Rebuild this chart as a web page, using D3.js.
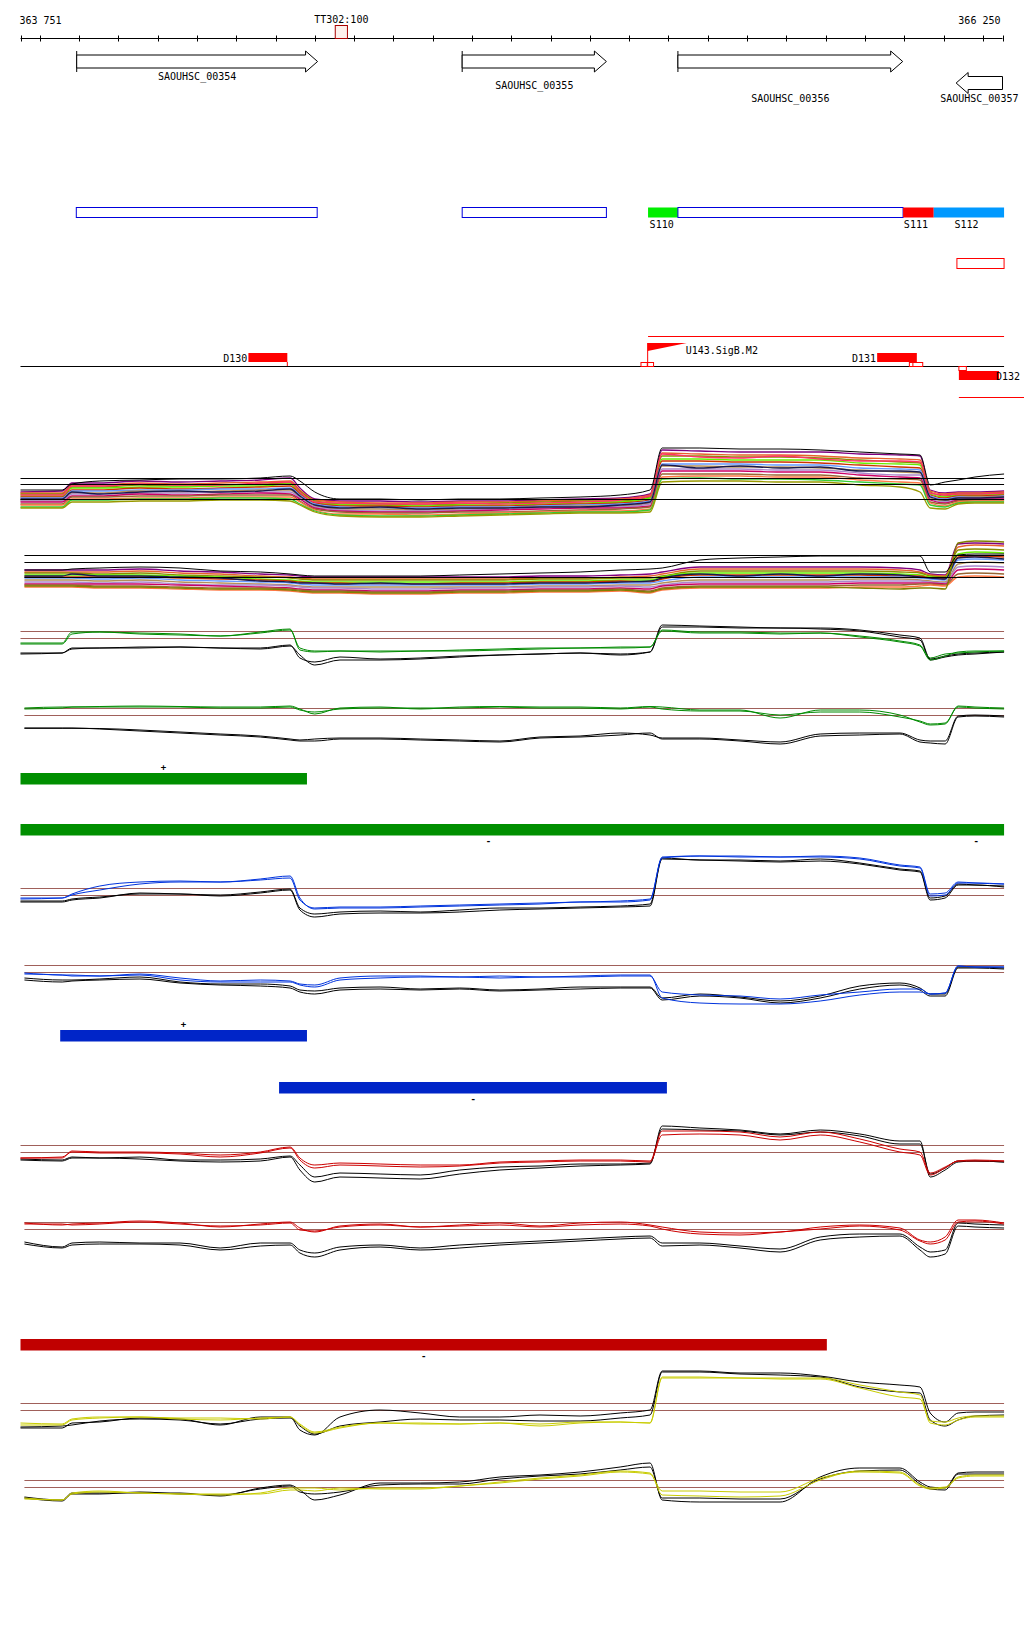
<!DOCTYPE html>
<html><head><meta charset="utf-8">
<script src="https://cdn.jsdelivr.net/npm/d3@7"></script>
<style>
body{margin:0;background:#fff}
text{font-family:'DejaVu Sans Mono',monospace;font-size:10px;fill:#000}
</style>
</head><body>
<svg id="c" width="1024" height="1640"></svg>
<script>
// ---------------- DATA ----------------
const regionStart = 363751, regionEnd = 366250;
const startLabel = "363 751", endLabel = "366 250";
const tickValues = d3.range(363800, 366250, 100);

const terminatorName = "TT302:100";
const terminatorRange = [364552, 364583];

const geneNames = ["SAOUHSC_00354","SAOUHSC_00355","SAOUHSC_00356","SAOUHSC_00357"];
const geneStart = [363894, 364875, 365424, 366132];
const geneEnd   = [364507, 365242, 365996, 366250];
const geneStrand = ["+","+","+","-"];

const segStart = [363893, 364875, 365348, 365424, 365997, 366075];
const segEnd   = [364506, 365242, 365424, 365997, 366075, 366254];
const segKind  = ["cds","cds","S110","cds","S111","S112"];
const segLabels = ["S110","S111","S112"];
const segLabelPos = [365352, 365999, 366128];

const redBoxRange = [366134, 366254];
const redLineUpper = [365348, 366254];
const redLineLower = [366139, 366305];

const peakNames = ["D130","D131","D132"];
const peakStart = [364331, 365931, 366139];
const peakEnd   = [364430, 366032, 366241];
const promoterName = "U143.SigB.M2";
const promoterPos = 365347;

// sample positions along the region (bp)
const positions = [363751,363857,363882,363953,364055,364157,364259,364361,364437,364462,364500,364564,364666,364768,364869,364971,365073,365175,365277,365353,365384,365480,365582,365684,365786,365887,365989,366040,366066,366104,366137,366180,366254];
const positionsLower = [363761].concat(positions.slice(1));

// ---- multi-condition track (sense) ----
const multiAColors = ["#800080","#e8602c","#8b8b00","#66ee00","#cc3300","#6699ff","#b38f5a","#aa88cc","#cc0066","#996633","#ff7744","#33cc33","#999900","#1a1a4d","#ff3366"];
const multiA = [
 [4.8,4.9,5.7,5.7,5.9,5.8,5.9,6.0,6.2,5.2,4.1,3.9,3.9,3.8,3.9,3.9,4.0,4.1,4.2,4.6,9.0,8.9,8.8,8.8,8.8,8.6,8.5,8.4,5.0,4.7,4.8,4.8,4.9],
 [4.7,4.7,5.5,5.5,5.7,5.6,5.7,5.8,5.9,5.0,4.0,3.8,3.7,3.7,3.8,3.8,3.9,4.0,4.1,4.5,8.7,8.6,8.5,8.5,8.4,8.2,8.1,8.0,4.9,4.6,4.7,4.7,4.8],
 [4.6,4.6,5.3,5.3,5.5,5.4,5.5,5.6,5.7,4.9,3.9,3.6,3.6,3.5,3.6,3.7,3.8,3.9,3.9,4.3,8.4,8.4,8.3,8.3,8.2,8.0,7.8,7.7,4.8,4.4,4.6,4.6,4.7],
 [4.4,4.4,5.2,5.2,5.3,5.3,5.4,5.4,5.6,4.7,3.8,3.5,3.5,3.4,3.5,3.5,3.6,3.7,3.8,4.2,8.1,8.1,8.0,8.0,8.0,7.7,7.6,7.5,4.6,4.3,4.5,4.5,4.6],
 [4.3,4.3,5.0,5.0,5.2,5.1,5.2,5.3,5.4,4.6,3.7,3.4,3.4,3.3,3.4,3.4,3.5,3.6,3.7,4.0,7.9,7.9,7.8,7.8,7.7,7.5,7.3,7.2,4.5,4.2,4.4,4.4,4.5],
 [4.2,4.2,4.9,4.9,5.0,5.0,5.1,5.1,5.2,4.5,3.6,3.3,3.2,3.2,3.3,3.3,3.4,3.5,3.6,3.9,7.6,7.6,7.6,7.5,7.5,7.2,7.1,7.0,4.4,4.1,4.3,4.3,4.4],
 [4.0,4.0,4.7,4.7,4.9,4.8,4.9,5.0,5.0,4.3,3.4,3.1,3.1,3.0,3.1,3.2,3.3,3.4,3.4,3.7,7.4,7.4,7.3,7.3,7.2,7.0,6.8,6.7,4.2,3.9,4.2,4.3,4.3],
 [3.9,3.9,4.6,4.6,4.7,4.7,4.8,4.8,4.8,4.2,3.3,3.0,2.9,2.9,3.0,3.1,3.2,3.3,3.3,3.6,7.1,7.1,7.1,7.0,7.0,6.7,6.5,6.5,4.1,3.8,4.1,4.2,4.2],
 [3.8,3.8,4.4,4.4,4.6,4.5,4.6,4.7,4.6,4.1,3.2,2.9,2.8,2.8,2.9,3.0,3.1,3.2,3.2,3.4,6.9,6.9,6.9,6.8,6.8,6.5,6.3,6.2,4.0,3.7,4.0,4.1,4.1],
 [3.6,3.6,4.3,4.3,4.4,4.4,4.5,4.5,4.5,3.9,3.1,2.8,2.7,2.7,2.8,2.8,2.9,3.0,3.1,3.3,6.6,6.6,6.6,6.5,6.5,6.2,6.1,6.0,3.8,3.6,3.9,4.0,4.0],
 [3.5,3.5,4.1,4.1,4.2,4.2,4.3,4.3,4.3,3.8,3.0,2.6,2.6,2.5,2.6,2.7,2.8,2.9,2.9,3.1,6.3,6.4,6.4,6.3,6.3,6.0,5.8,5.7,3.7,3.4,3.8,3.9,3.9],
 [3.3,3.3,4.0,4.0,4.1,4.1,4.2,4.2,4.1,3.6,2.9,2.5,2.4,2.4,2.5,2.6,2.7,2.8,2.8,3.0,6.1,6.2,6.1,6.1,6.0,5.8,5.6,5.5,3.5,3.3,3.7,3.8,3.8],
 [3.2,3.2,3.8,3.8,3.9,3.9,4.0,4.0,3.9,3.5,2.8,2.4,2.3,2.3,2.4,2.5,2.6,2.7,2.7,2.8,5.8,5.9,5.9,5.8,5.8,5.5,5.3,4.8,3.2,3.1,3.6,3.7,3.7],
 [4.1,4.1,4.8,4.6,4.8,4.9,4.8,4.9,5.1,4.4,3.5,3.2,3.3,3.1,3.2,3.2,3.3,3.3,3.5,3.8,7.5,7.2,7.4,7.2,7.3,6.9,6.9,6.8,4.3,4.0,4.2,4.2,4.3],
 [4.5,4.5,5.4,5.4,5.6,5.5,5.5,5.7,5.8,4.8,3.8,3.7,3.6,3.6,3.7,3.6,3.7,3.8,4.0,4.4,8.6,8.3,8.2,8.4,8.1,7.9,7.9,7.8,4.7,4.5,4.6,4.6,4.7]
];
const multiABlack = [5.0,5.0,5.6,5.9,6.0,6.1,6.1,6.2,6.4,5.9,4.8,4.1,4.1,4.0,4.1,4.1,4.2,4.3,4.5,5.0,9.2,9.2,9.1,9.1,9.0,8.8,8.6,8.5,5.5,5.8,6.0,6.3,6.6];
const multiARefs = [6.17, 5.57, 4.07];

// ---- multi-condition track (antisense) ----
const multiBColors = ["#800080","#e8602c","#8b8b00","#66ee00","#cc3300","#6699ff","#b38f5a","#aa88cc","#cc0066","#996633","#ff7744","#1a1a4d","#808000"];
const multiB = [
 [5.0,5.0,5.0,5.0,5.1,4.9,4.8,4.6,4.5,4.4,4.3,4.3,4.3,4.3,4.3,4.3,4.4,4.4,4.5,4.6,4.8,5.3,5.3,5.3,5.3,5.3,5.2,5.0,4.6,4.5,7.6,7.7,7.6],
 [4.8,4.8,4.8,4.8,4.9,4.7,4.6,4.4,4.3,4.2,4.1,4.1,4.1,4.1,4.1,4.1,4.2,4.2,4.3,4.4,4.6,5.1,5.1,5.1,5.1,5.1,5.0,4.8,4.5,4.4,7.3,7.5,7.4],
 [4.7,4.7,4.7,4.6,4.7,4.5,4.4,4.3,4.2,4.1,4.0,4.0,4.0,4.0,4.0,4.0,4.1,4.1,4.2,4.2,4.4,4.9,4.9,4.9,4.9,4.9,4.8,4.7,4.4,4.3,7.0,7.1,7.0],
 [4.5,4.5,4.5,4.5,4.5,4.4,4.3,4.1,4.0,3.9,3.8,3.8,3.8,3.8,3.8,3.8,3.9,3.9,4.0,4.0,4.3,4.7,4.7,4.7,4.7,4.7,4.6,4.5,4.3,4.2,6.6,6.8,6.7],
 [4.3,4.3,4.3,4.3,4.3,4.2,4.1,4.0,3.9,3.8,3.7,3.7,3.6,3.6,3.7,3.7,3.8,3.8,3.9,3.8,4.1,4.5,4.5,4.5,4.5,4.5,4.4,4.4,4.2,4.1,6.3,6.4,6.3],
 [4.2,4.2,4.2,4.1,4.2,4.0,3.9,3.8,3.7,3.6,3.5,3.5,3.5,3.5,3.5,3.5,3.6,3.6,3.7,3.7,3.9,4.3,4.3,4.3,4.3,4.3,4.3,4.2,4.1,4.0,6.0,6.1,6.0],
 [4.0,4.0,4.0,3.9,4.0,3.8,3.7,3.6,3.5,3.4,3.3,3.3,3.3,3.3,3.3,3.3,3.4,3.4,3.5,3.5,3.7,4.0,4.0,4.0,4.0,4.1,4.1,4.0,3.9,3.8,5.6,5.8,5.7],
 [3.8,3.8,3.8,3.7,3.8,3.6,3.5,3.5,3.4,3.3,3.2,3.2,3.1,3.1,3.2,3.2,3.3,3.3,3.4,3.3,3.5,3.8,3.8,3.8,3.8,3.9,3.9,3.9,3.8,3.7,5.3,5.4,5.3],
 [3.6,3.6,3.6,3.6,3.6,3.5,3.4,3.3,3.2,3.1,3.0,3.0,2.9,2.9,3.0,3.0,3.1,3.1,3.2,3.1,3.4,3.6,3.6,3.6,3.6,3.7,3.7,3.7,3.7,3.6,5.0,5.1,5.0],
 [3.5,3.5,3.5,3.4,3.4,3.3,3.2,3.2,3.1,3.0,2.9,2.9,2.8,2.8,2.9,2.9,3.0,3.0,3.1,2.9,3.2,3.4,3.4,3.4,3.4,3.5,3.5,3.6,3.6,3.5,4.6,4.7,4.6],
 [3.3,3.3,3.3,3.2,3.2,3.1,3.0,3.0,2.9,2.8,2.7,2.7,2.6,2.6,2.7,2.7,2.8,2.8,2.9,2.7,3.0,3.2,3.2,3.2,3.2,3.3,3.3,3.4,3.5,3.4,4.3,4.4,4.3],
 [4.4,4.4,4.6,4.4,4.4,4.3,4.2,3.9,3.8,3.7,3.7,3.6,3.7,3.6,3.6,3.6,3.7,3.7,3.8,3.9,4.2,4.6,4.4,4.6,4.4,4.6,4.5,4.3,4.2,4.1,6.2,6.3,6.1],
 [3.4,3.4,3.4,3.3,3.3,3.2,3.1,3.1,3.0,2.9,2.8,2.8,2.7,2.7,2.8,2.8,2.9,2.9,3.0,2.8,3.1,3.3,3.3,3.3,3.3,3.2,3.1,3.2,3.2,3.1,7.7,7.9,7.8]
];
const multiBBlack = [5.0,5.0,5.1,5.2,5.3,5.2,4.9,4.8,4.6,4.5,4.4,4.4,4.4,4.4,4.5,4.6,4.7,4.8,5.0,5.1,5.2,6.0,6.2,6.3,6.4,6.4,6.4,6.4,4.8,4.8,6.5,6.6,6.6];
const multiBRefs = [6.47, 5.77, 4.33];

// ---- condition tracks: colour pair + black pair ----
const greenSense1 = [5.7,5.7,6.8,6.8,6.7,6.6,6.4,6.7,7.0,5.2,4.9,4.9,4.9,4.9,5.0,5.1,5.2,5.2,5.3,5.3,7.0,6.8,6.8,6.7,6.7,6.4,5.9,5.5,4.2,4.6,4.7,4.8,4.9];
const greenSense2 = [5.6,5.6,6.6,6.8,6.6,6.5,6.4,6.8,7.1,5.0,4.8,4.9,4.8,4.9,4.9,5.0,5.1,5.2,5.2,5.3,6.9,6.7,6.7,6.6,6.7,6.3,5.8,5.4,4.0,4.4,4.8,4.9,4.9];
const greenSenseBlack1 = [4.7,4.7,5.2,5.2,5.3,5.3,5.2,5.1,5.4,4.5,3.5,4.0,4.0,4.1,4.3,4.5,4.6,4.7,4.6,4.8,7.3,7.3,7.2,7.2,7.1,6.9,6.3,6.0,4.0,4.3,4.5,4.6,4.8];
const greenSenseBlack2 = [4.6,4.7,5.1,5.2,5.2,5.3,5.2,5.2,5.5,4.2,3.8,4.3,4.1,4.2,4.4,4.5,4.6,4.7,4.5,4.8,7.5,7.4,7.3,7.2,7.2,7.0,6.5,6.2,4.1,4.4,4.6,4.7,4.8];
const greenAnti1 = [7.2,7.3,7.3,7.35,7.4,7.35,7.3,7.3,7.4,7.1,6.6,7.2,7.3,7.1,7.3,7.35,7.3,7.3,7.2,7.35,7.3,7.0,7.0,6.2,7.0,7.0,6.5,5.8,5.5,5.6,7.4,7.3,7.2];
const greenAnti2 = [7.1,7.2,7.3,7.3,7.3,7.3,7.2,7.2,7.3,7.0,6.8,7.1,7.2,7.2,7.2,7.3,7.2,7.2,7.1,7.3,7.1,6.9,6.9,6.5,6.8,6.8,6.3,5.9,5.6,5.7,7.3,7.2,7.1];
const greenAntiBlack1 = [5.17,5.17,5.17,5.15,5.0,4.8,4.6,4.4,4.1,4.0,4.1,4.2,4.2,4.1,4.0,3.9,4.3,4.4,4.7,4.5,4.2,4.2,4.0,3.8,4.6,4.7,4.7,4.0,3.9,3.9,6.4,6.5,6.4];
const greenAntiBlack2 = [5.2,5.2,5.2,5.1,4.9,4.7,4.5,4.3,4.0,3.9,3.9,4.1,4.1,4.0,3.9,3.8,4.2,4.3,4.5,4.7,4.1,4.1,3.9,3.6,4.4,4.5,4.6,3.8,3.7,3.6,6.3,6.4,6.3];

const blueSense1 = [4.2,4.2,4.6,5.4,5.8,5.9,5.8,6.1,6.4,4.2,3.1,3.2,3.2,3.3,3.4,3.5,3.6,3.8,3.8,4.0,8.3,8.4,8.4,8.3,8.3,8.1,7.4,7.2,4.4,4.5,5.7,5.7,5.6];
const blueSense2 = [4.1,4.2,4.5,5.0,5.6,5.8,5.8,6.0,6.2,4.0,3.2,3.3,3.3,3.4,3.5,3.6,3.7,3.8,3.9,4.1,8.2,8.4,8.3,8.3,8.4,8.2,7.5,7.3,4.6,4.7,5.8,5.7,5.6];
const blueSenseBlack1 = [3.8,3.8,4.0,4.2,4.7,4.6,4.5,4.8,5.1,3.2,2.6,2.8,2.9,2.8,3.0,3.2,3.2,3.3,3.4,3.6,8.2,8.0,8.0,7.9,8.1,7.7,7.1,6.9,4.2,4.4,5.6,5.5,5.4];
const blueSenseBlack2 = [3.9,3.9,4.1,4.3,4.6,4.6,4.4,4.7,5.0,3.0,2.3,2.6,2.7,2.7,2.8,3.0,3.1,3.2,3.3,3.4,8.1,8.0,7.9,7.8,7.9,7.6,7.0,6.8,4.0,4.2,5.5,5.5,5.3];
const blueAnti1 = [6.7,6.5,6.5,6.4,6.6,6.2,5.9,6.0,5.9,5.6,5.5,6.2,6.4,6.4,6.3,6.4,6.3,6.4,6.5,6.5,4.2,3.7,3.6,3.6,3.9,4.5,4.8,4.8,4.6,4.7,7.4,7.3,7.3];
const blueAnti2 = [6.6,6.5,6.4,6.4,6.5,6.0,5.8,5.8,5.8,5.5,5.3,6.0,6.2,6.3,6.3,6.2,6.3,6.3,6.4,6.4,4.8,4.5,4.4,4.1,4.5,4.8,5.1,5.1,4.6,4.7,7.4,7.3,7.3];
const blueAntiBlack1 = [6.2,6.0,6.0,6.1,6.3,5.8,5.6,5.6,5.4,5.0,4.9,5.2,5.3,5.1,5.2,5.0,5.1,5.3,5.3,5.3,4.2,4.6,4.3,3.9,4.4,5.4,5.7,5.2,4.6,4.6,7.3,7.3,7.2];
const blueAntiBlack2 = [6.0,5.8,5.9,6.0,6.1,5.7,5.5,5.4,5.2,4.8,4.6,5.0,5.1,5.0,5.1,4.9,5.0,5.1,5.2,5.2,4.0,4.4,4.2,3.7,4.2,5.1,5.5,5.0,4.4,4.4,7.2,7.2,7.1];

const redSense1 = [4.2,4.3,4.8,4.7,4.7,4.6,4.3,4.7,5.2,4.0,3.2,3.5,3.4,3.3,3.4,3.7,3.8,3.9,3.9,3.8,6.5,6.6,6.5,6.0,6.5,5.8,4.8,4.5,2.5,3.2,3.9,3.9,3.9];
const redSense2 = [4.2,4.2,4.9,4.8,4.8,4.7,4.5,4.8,5.3,4.2,3.5,3.7,3.6,3.5,3.5,3.8,3.9,4.0,4.0,3.9,6.9,6.9,6.8,6.3,6.8,6.1,5.1,4.8,2.7,3.3,3.9,4.0,3.9];
const redSenseBlack1 = [4.1,4.0,4.3,4.2,4.3,4.0,4.0,4.1,4.4,3.5,2.3,2.7,2.6,2.5,3.0,3.3,3.4,3.6,3.6,3.7,7.1,7.0,6.9,6.5,6.8,6.4,5.6,5.6,2.6,3.2,3.9,3.9,3.8];
const redSenseBlack2 = [4.0,3.9,4.2,4.2,4.1,3.9,3.8,3.9,4.3,3.0,1.8,2.3,2.2,2.1,2.6,3.0,3.2,3.4,3.5,3.6,7.4,7.2,7.0,6.6,7.0,6.6,5.9,5.9,2.3,3.0,3.8,3.9,3.8];
const redAnti1 = [6.7,6.5,6.6,6.7,6.9,6.7,6.3,6.6,6.8,6.2,5.8,6.4,6.6,6.3,6.5,6.7,6.4,6.7,6.8,6.5,6.3,5.8,5.7,5.8,6.3,6.5,6.2,5.0,4.8,5.3,7.0,7.0,6.7];
const redAnti2 = [6.6,6.6,6.5,6.6,6.8,6.6,6.4,6.5,6.7,6.0,5.9,6.3,6.5,6.3,6.4,6.5,6.3,6.5,6.6,6.4,6.1,5.6,5.5,5.8,6.1,6.4,6.0,4.9,4.6,5.0,6.8,6.9,6.6];
const redAntiBlack1 = [4.8,4.3,4.7,4.8,4.7,4.7,4.2,4.7,4.7,4.0,3.7,4.3,4.5,4.2,4.5,4.7,4.9,5.1,5.3,5.4,4.7,4.7,4.4,4.1,5.3,5.6,5.6,4.3,3.8,4.0,6.7,6.6,6.5];
const redAntiBlack2 = [4.6,4.2,4.5,4.6,4.6,4.5,4.0,4.4,4.5,3.7,3.3,4.0,4.3,4.0,4.2,4.5,4.7,4.9,5.1,5.2,4.4,4.5,4.2,3.8,5.0,5.3,5.4,4.0,3.3,3.6,6.4,6.3,6.2];

const yellowSense1 = [2.5,2.5,3.0,3.2,3.3,3.1,3.0,3.2,3.3,2.5,1.7,2.2,2.7,2.7,2.6,2.7,2.4,2.7,2.8,2.7,7.3,7.3,7.2,7.2,7.2,6.5,5.8,5.5,2.7,2.5,3.0,3.3,3.3];
const yellowSense2 = [2.7,2.6,3.1,3.3,3.3,3.2,3.2,3.1,3.3,2.6,1.8,2.3,2.7,2.6,2.6,2.7,2.6,2.8,2.8,2.7,7.2,7.2,7.2,7.1,7.1,6.2,5.3,5.1,2.9,2.8,3.2,3.4,3.4];
const yellowSenseBlack1 = [2.2,2.2,2.7,2.8,3.2,3.1,2.5,3.3,3.3,2.0,1.5,3.3,4.0,3.7,3.3,3.3,3.5,3.4,3.7,4.0,7.9,7.9,7.7,7.7,7.4,6.8,6.5,6.3,3.7,2.8,3.7,3.8,3.8];
const yellowSenseBlack2 = [2.3,2.4,2.5,2.9,3.1,3.0,2.6,3.1,3.2,2.4,1.6,2.4,2.8,3.1,3.0,3.0,2.9,2.9,3.2,3.5,7.8,7.8,7.6,7.5,7.3,6.3,5.8,5.7,3.0,2.4,3.0,3.4,3.5];
const yellowAnti1 = [4.2,4.0,4.7,4.9,4.7,4.6,4.5,4.7,5.2,5.2,5.2,5.0,5.2,5.2,5.4,5.8,6.2,6.5,6.9,6.7,4.5,4.4,4.3,4.4,6.0,6.9,6.8,5.5,5.2,5.3,6.3,6.5,6.5];
const yellowAnti2 = [4.1,4.0,4.6,4.8,4.7,4.6,4.6,4.6,5.0,5.0,4.9,5.2,5.1,5.1,5.4,5.7,6.1,6.4,6.8,6.6,4.9,4.9,4.8,4.8,6.2,6.8,6.7,5.4,5.1,5.2,6.2,6.4,6.4];
const yellowAntiBlack1 = [4.3,4.0,4.7,4.7,4.7,4.7,4.4,5.2,5.5,5.0,4.0,4.5,5.7,5.7,5.8,6.3,6.5,6.8,7.3,7.7,4.0,3.8,3.8,3.8,6.3,7.2,7.2,5.8,5.3,5.2,6.7,6.8,6.8];
const yellowAntiBlack2 = [4.2,3.9,4.6,4.6,4.8,4.6,4.5,5.1,5.4,4.8,4.6,4.8,5.5,5.6,5.6,6.1,6.4,6.6,7.0,7.3,4.2,4.2,4.1,4.1,6.1,6.9,7.0,5.6,5.1,5.0,6.6,6.6,6.6];

const senseRefs = {green:[6.93,6.2], blue:[5.17,4.5], red:[5.47,4.77], yellow:[4.67,3.97]};
const antiRefs  = {green:[7.17,6.47], blue:[7.47,6.77], red:[6.77,6.07], yellow:[5.97,5.27]};

// condition blocks (bars) and strand signs
const barStart = [363751, 363751, 363852, 364409, 363751];
const barEnd   = [364480, 366254, 364480, 365396, 365803];
const barCondition = ["green","green","blue","blue","red"];
const signText = ["+","-","-","+","-","-"];
const signPos  = [364115, 364942, 366183, 364166, 364903, 364777];
const signBar  = [0, 1, 1, 2, 3, 4];

// ---------------- DRAWING ----------------
const svg = d3.select("#c");
const x = d3.scaleLinear().domain([regionStart, regionEnd]).range([20.5, 1002.5]);
const colours = {green:"#008a00", blue:"#0033dd", red:"#cc0000", yellow:"#c8cc00"};
const barColours = {green:"#008f00", blue:"#0025c8", red:"#c00000"};
const refColour = "#a0605a";

// axis
const axisY = 38.5;
svg.append("line").attr("x1", x(regionStart)).attr("x2", x(regionEnd))
  .attr("y1", axisY).attr("y2", axisY).attr("stroke", "#000");
[regionStart].concat(tickValues, [regionEnd]).forEach(t => {
  svg.append("line").attr("x1", Math.round(x(t))+0.5).attr("x2", Math.round(x(t))+0.5)
    .attr("y1", axisY-3).attr("y2", axisY+3).attr("stroke", "#000");
});
svg.append("text").attr("x", x(regionStart)-1).attr("y", 24).text(startLabel);
svg.append("text").attr("x", x(regionEnd)-2).attr("y", 24).attr("text-anchor","end").text(endLabel);
svg.append("rect").attr("x", x(terminatorRange[0])).attr("y", 25.5)
  .attr("width", x(terminatorRange[1])-x(terminatorRange[0])).attr("height", 13)
  .attr("fill", "#fdf0ec").attr("stroke", "#a80000");
svg.append("text").attr("x", (x(terminatorRange[0])+x(terminatorRange[1]))/2).attr("y", 22.5)
  .attr("text-anchor","middle").text(terminatorName);

// genes
const geneLabelY = [80, 89.3, 102, 102];
const geneArrowY = [61.5, 61.5, 61.5, 83];
geneNames.forEach((g, i) => {
  const cy = geneArrowY[i], h = 6.5, hh = 10.5, head = 12;
  let pts;
  if (geneStrand[i] === "+") {
    const x0 = x(geneStart[i]), x1 = x(geneEnd[i]);
    pts = [[x0,cy-h],[x1-head,cy-h],[x1-head,cy-hh],[x1,cy],[x1-head,cy+hh],[x1-head,cy+h],[x0,cy+h]];
    svg.append("line").attr("x1", x0).attr("x2", x0).attr("y1", cy-hh).attr("y2", cy+hh).attr("stroke","#000");
  } else {
    const x0 = x(geneEnd[i]), x1 = x(geneStart[i]);
    pts = [[x0,cy-h],[x1+head,cy-h],[x1+head,cy-hh],[x1,cy],[x1+head,cy+hh],[x1+head,cy+h],[x0,cy+h]];
  }
  svg.append("path").attr("d", d3.line()(pts) + "Z").attr("fill", "#fff").attr("stroke", "#000");
  svg.append("text").attr("x", (x(geneStart[i])+x(geneEnd[i]))/2).attr("y", geneLabelY[i])
    .attr("text-anchor","middle").text(g);
});

// segments row
const segColours = {S110:"#00ee00", S111:"#ff0000", S112:"#0099ff"};
segStart.forEach((s, i) => {
  const k = segKind[i];
  const r = svg.append("rect").attr("x", x(s)).attr("y", 207.5)
    .attr("width", x(segEnd[i]) - x(s)).attr("height", 10);
  if (k === "cds") r.attr("fill", "#fff").attr("stroke", "#0000dd");
  else r.attr("fill", segColours[k]).attr("stroke", "none");
});
segLabels.forEach((l, i) => svg.append("text").attr("x", x(segLabelPos[i])).attr("y", 228.3).text(l));
svg.append("rect").attr("x", x(redBoxRange[0])).attr("y", 258.5)
  .attr("width", x(redBoxRange[1]) - x(redBoxRange[0])).attr("height", 10)
  .attr("fill", "none").attr("stroke", "#ff0000");

// peaks row
svg.append("line").attr("x1", x(redLineUpper[0])).attr("x2", x(redLineUpper[1]))
  .attr("y1", 336.5).attr("y2", 336.5).attr("stroke", "#ff0000");
svg.append("line").attr("x1", x(regionStart)).attr("x2", x(redLineUpper[1]))
  .attr("y1", 366.5).attr("y2", 366.5).attr("stroke", "#000");
svg.append("line").attr("x1", x(redLineLower[0])).attr("x2", x(redLineLower[1]))
  .attr("y1", 397.5).attr("y2", 397.5).attr("stroke", "#ff0000");
const peakY = [353, 353, 371];
peakNames.forEach((p, i) => {
  svg.append("rect").attr("x", x(peakStart[i])).attr("y", peakY[i])
    .attr("width", x(peakEnd[i]) - x(peakStart[i])).attr("height", 9).attr("fill", "#ff0000");
});
svg.append("text").attr("x", x(peakStart[0])-1).attr("y", 361.7).attr("text-anchor","end").text(peakNames[0]);
svg.append("text").attr("x", x(peakStart[1])-1).attr("y", 361.5).attr("text-anchor","end").text(peakNames[1]);
svg.append("text").attr("x", x(peakEnd[2])-3).attr("y", 380).text(peakNames[2]);
svg.append("line").attr("x1", x(peakEnd[0])).attr("x2", x(peakEnd[0])).attr("y1", 362).attr("y2", 366)
  .attr("stroke", "#ff0000");
[[365346,365330,365362],[366022,366013,366047],[366139,366139,366158]].forEach((b, i) => {
  const y0 = i === 2 ? 366.5 : 362.5;
  svg.append("rect").attr("x", x(b[1])).attr("y", y0).attr("width", x(b[2])-x(b[1])).attr("height", 4)
    .attr("fill", "#fff").attr("stroke", "#ff0000");
  if (i < 2) svg.append("line").attr("x1", x(b[0])).attr("x2", x(b[0])).attr("y1", y0).attr("y2", y0+4).attr("stroke","#ff0000");
});
const px = x(promoterPos);
svg.append("line").attr("x1", px).attr("x2", px).attr("y1", 343).attr("y2", 366).attr("stroke", "#ff0000");
svg.append("path").attr("d", d3.line()([[px,343],[px+39,343],[px,351]]) + "Z").attr("fill", "#ff0000");
svg.append("text").attr("x", px+38).attr("y", 354.3).text(promoterName);

// tracks
function yScaleFor(top) { return d3.scaleLinear().domain([0, 10]).range([top + 100, top]); }
function drawRefs(y, refs, colour, xs, xe) {
  refs.forEach(r => svg.append("line").attr("x1", x(xs)).attr("x2", x(xe))
    .attr("y1", Math.round(y(r))+0.5).attr("y2", Math.round(y(r))+0.5).attr("stroke", colour));
}
function drawSeries(y, pos, vals, colour, w) {
  const line = d3.line().x((d, i) => x(pos[i])).y(d => y(d)).curve(d3.curveMonotoneX);
  svg.append("path").attr("d", line(vals)).attr("fill", "none").attr("stroke", colour)
    .attr("stroke-width", w || 1);
}

{
  const y = yScaleFor(440);
  multiA.forEach((s, i) => drawSeries(y, positions, s, multiAColors[i], 1.3));
  drawSeries(y, positions, multiABlack, "#000", 1);
  drawRefs(y, multiARefs, "#000", positions[0], positions[positions.length-1]);
}
{
  const y = yScaleFor(520);
  multiB.forEach((s, i) => drawSeries(y, positionsLower, s, multiBColors[i], 1.3));
  drawSeries(y, positionsLower, multiBBlack, "#000", 1);
  drawRefs(y, multiBRefs, "#000", positionsLower[0], positions[positions.length-1]);
}

function conditionPair(top, lowerTop, cond, s1, s2, b1, b2, a1, a2, ab1, ab2) {
  const yS = yScaleFor(top);
  drawRefs(yS, senseRefs[cond], refColour, positions[0], positions[positions.length-1]);
  drawSeries(yS, positions, b1, "#000"); drawSeries(yS, positions, b2, "#000");
  drawSeries(yS, positions, s1, colours[cond]); drawSeries(yS, positions, s2, colours[cond]);
  const yA = yScaleFor(lowerTop);
  drawRefs(yA, antiRefs[cond], refColour, positionsLower[0], positions[positions.length-1]);
  drawSeries(yA, positionsLower, ab1, "#000"); drawSeries(yA, positionsLower, ab2, "#000");
  drawSeries(yA, positionsLower, a1, colours[cond]); drawSeries(yA, positionsLower, a2, colours[cond]);
}
conditionPair(600, 680, "green", greenSense1, greenSense2, greenSenseBlack1, greenSenseBlack2, greenAnti1, greenAnti2, greenAntiBlack1, greenAntiBlack2);
conditionPair(840, 940, "blue", blueSense1, blueSense2, blueSenseBlack1, blueSenseBlack2, blueAnti1, blueAnti2, blueAntiBlack1, blueAntiBlack2);
conditionPair(1100, 1190, "red", redSense1, redSense2, redSenseBlack1, redSenseBlack2, redAnti1, redAnti2, redAntiBlack1, redAntiBlack2);
conditionPair(1350, 1440, "yellow", yellowSense1, yellowSense2, yellowSenseBlack1, yellowSenseBlack2, yellowAnti1, yellowAnti2, yellowAntiBlack1, yellowAntiBlack2);

// condition bars
const barTop = [773, 824, 1030, 1082, 1339];
barStart.forEach((s, i) => {
  svg.append("rect").attr("x", x(s)).attr("y", barTop[i]).attr("width", x(barEnd[i]) - x(s))
    .attr("height", 11.5).attr("fill", barColours[barCondition[i]]);
});
signText.forEach((t, i) => {
  const b = signBar[i];
  const ty = t === "+" ? barTop[b] - 3.5 : barTop[b] + 20;
  svg.append("text").attr("x", x(signPos[i])).attr("y", ty).attr("text-anchor","middle")
    .style("font-size","9px").style("font-weight","bold").text(t);
});
</script>
</body></html>
